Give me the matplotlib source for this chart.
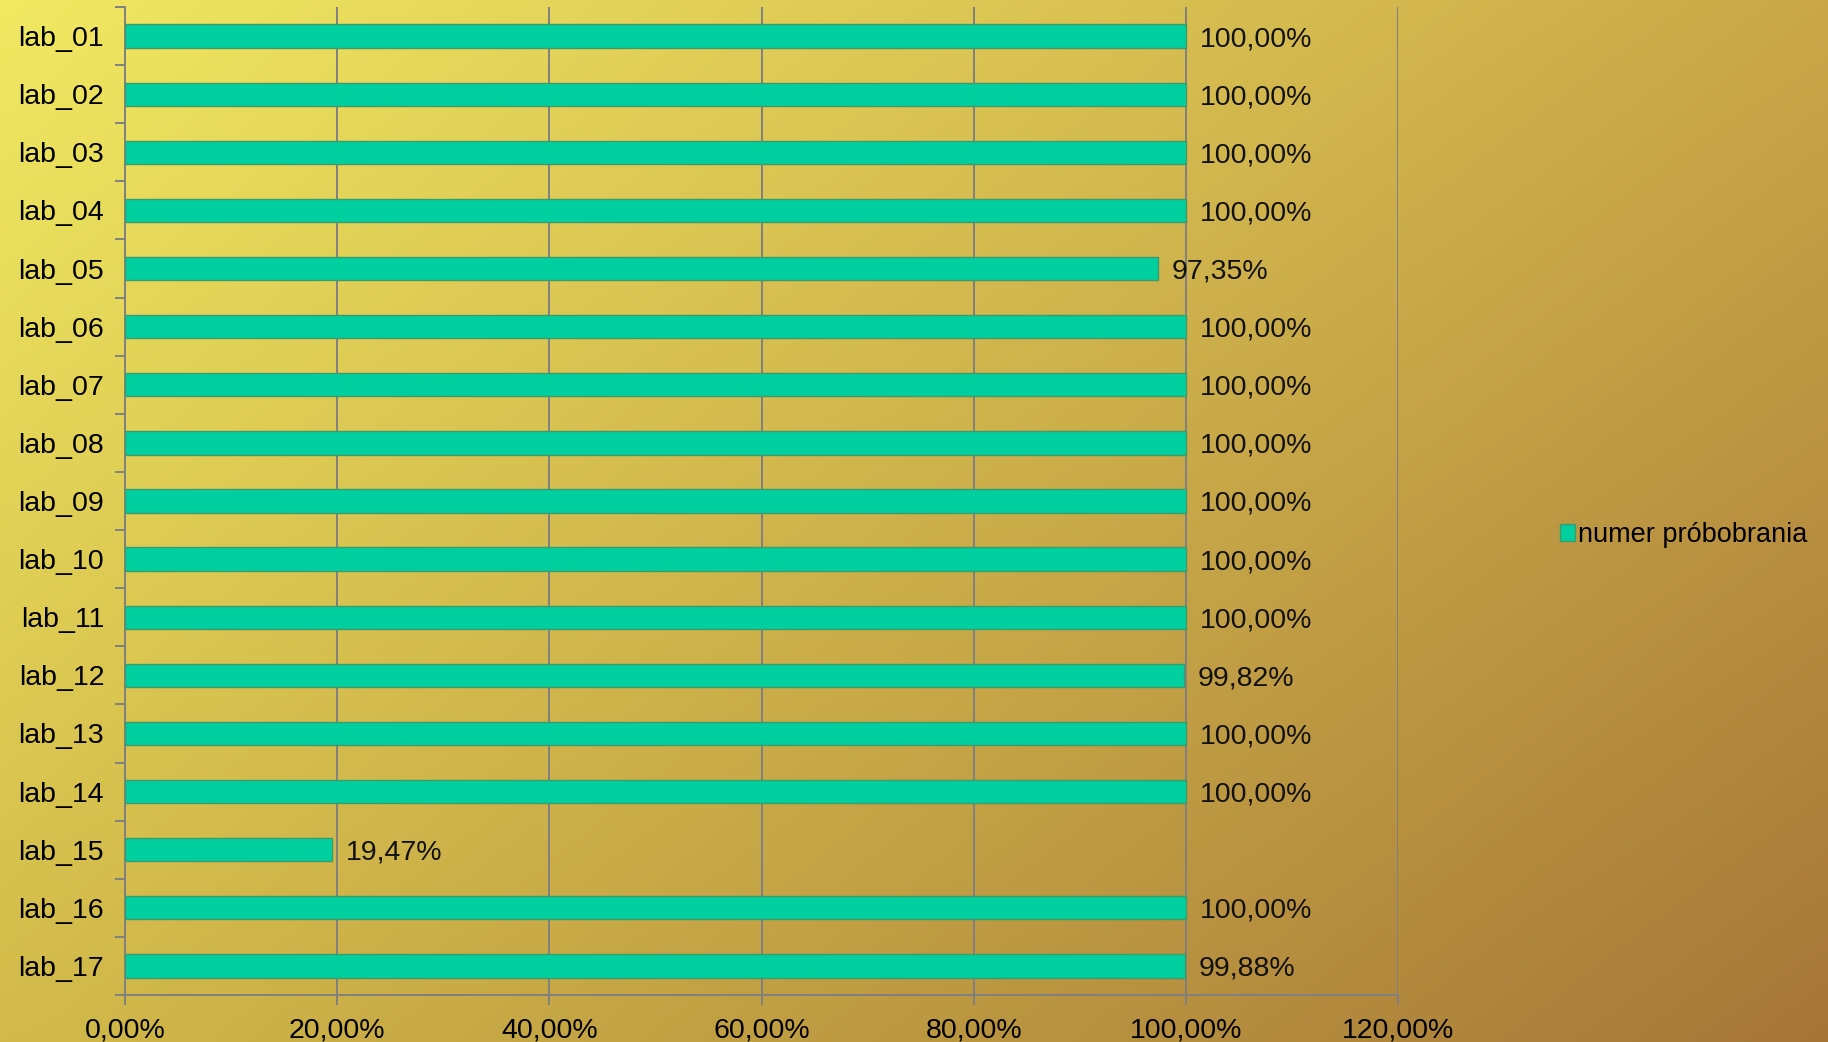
import matplotlib
matplotlib.use("Agg")
import matplotlib.pyplot as plt
import numpy as np
from matplotlib.ticker import FixedLocator, FuncFormatter

plt.rcParams["font.family"] = ["Liberation Sans", "DejaVu Sans"]

labs = [f"lab_{i:02d}" for i in range(1, 18)]
pct = [100.00, 100.00, 100.00, 100.00, 97.35, 100.00, 100.00, 100.00, 100.00,
       100.00, 100.00, 99.82, 100.00, 100.00, 19.47, 100.00, 99.88]
xticks = [0, 20, 40, 60, 80, 100, 120]
series_name = "numer próbobrania"

BAR = "#00d0a0"
EDGE = "#3f9a6a"
GRID = "#808080"
FS = 20.5

fig = plt.figure(figsize=(18.28, 10.42), dpi=100)

# diagonal gradient background
bg = fig.add_axes([0, 0, 1, 1], zorder=-10)
tl = np.array([241, 233, 98]) / 255
tr = np.array([202, 168, 72]) / 255
bl = np.array([210, 186, 74]) / 255
br = np.array([166, 118, 56]) / 255
u = np.linspace(0, 1, 300)[None, :, None]
v = np.linspace(0, 1, 200)[:, None, None]
img = (1 - v) * ((1 - u) * tl + u * tr) + v * ((1 - u) * bl + u * br)
bg.imshow(img, aspect="auto", extent=(0, 1, 0, 1), interpolation="bilinear")
bg.axis("off")

ax = fig.add_axes([125 / 1828, 1 - 995 / 1042, (1398 - 125) / 1828, (995 - 7) / 1042])
ax.set_facecolor("none")

y = np.arange(len(labs))
bars = ax.barh(y, pct, height=0.4, color=BAR, edgecolor=EDGE, linewidth=1.0,
               label=series_name, zorder=3)

for yi, val in zip(y, pct):
    ax.annotate(f"{val:.2f}%".replace(".", ","), (val, yi), xytext=(10, 0),
                textcoords="offset points", va="center_baseline", ha="left",
                fontsize=FS, color="#111111", zorder=4)

ax.set_xlim(0, 120)
ax.set_ylim(len(labs) - 0.5, -0.5)
ax.set_xticks(xticks)
ax.xaxis.set_major_formatter(FuncFormatter(lambda v_, _: f"{v_:.2f}%".replace(".", ",")))
ax.set_yticks(y)
ax.set_yticklabels(labs)
ax.yaxis.set_minor_locator(FixedLocator(np.arange(-0.5, len(labs), 1.0)))
for t in ax.get_yticklabels():
    t.set_verticalalignment("center_baseline")

ax.grid(axis="x", color=GRID, linewidth=1.4, zorder=1)
ax.set_axisbelow(True)
for s in ("top", "right"):
    ax.spines[s].set_visible(False)
for s in ("left", "bottom"):
    ax.spines[s].set_color(GRID)
    ax.spines[s].set_linewidth(1.4)

ax.tick_params(axis="y", which="major", length=0, pad=15, labelsize=FS)
ax.tick_params(axis="y", which="minor", length=7, width=1.4, color=GRID)
ax.tick_params(axis="x", which="major", length=7, width=1.4, color=GRID,
               pad=9, labelsize=FS)

fig.legend(handles=[bars], labels=[series_name], loc="center left",
           bbox_to_anchor=(1560 / 1828, 1 - 535 / 1042), frameon=False,
           fontsize=19.5, handlelength=0.55, handleheight=0.55, handletextpad=0.12,
           borderpad=0, borderaxespad=0)

fig.savefig("out.png", dpi=100)
